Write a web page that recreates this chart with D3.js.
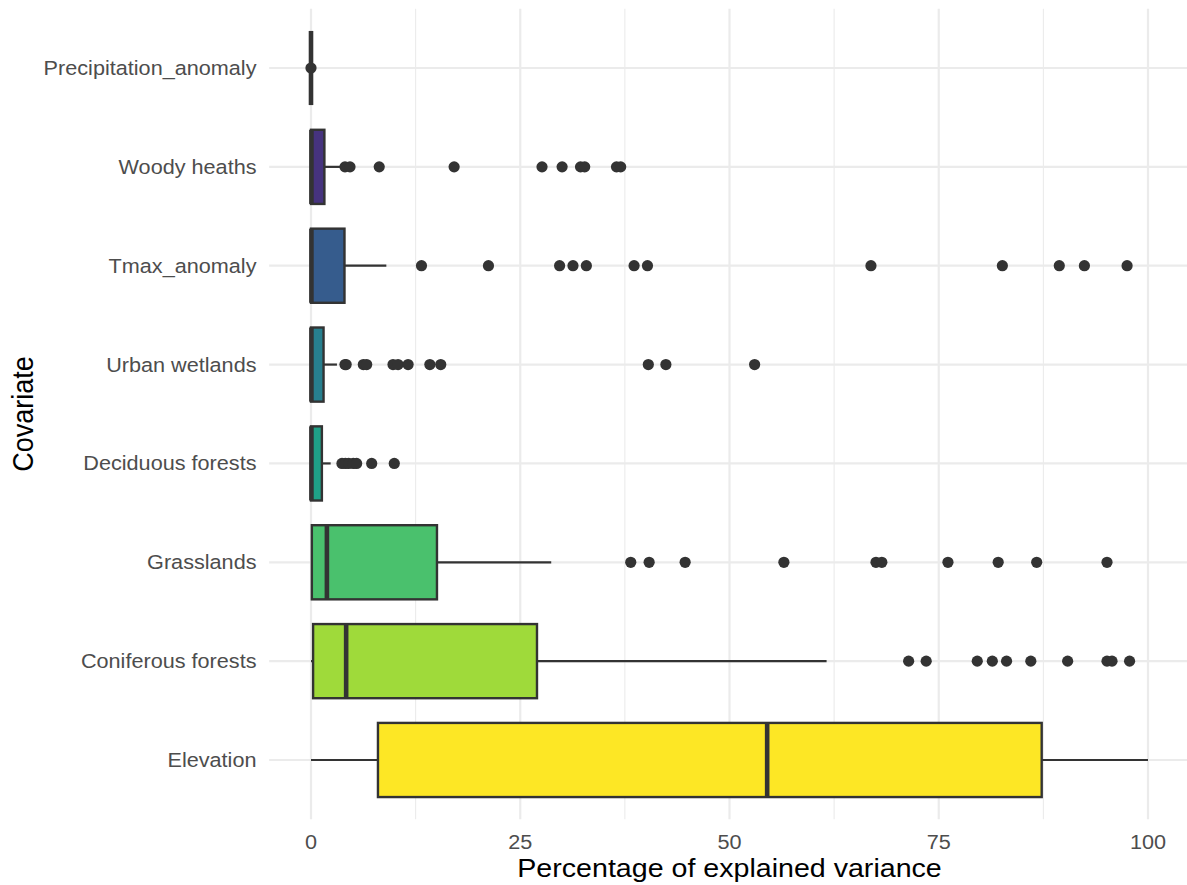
<!DOCTYPE html>
<html>
<head>
<meta charset="utf-8">
<script src="https://cdn.jsdelivr.net/npm/d3@7"></script>
<style>
  body { margin: 0; background: #fff; }
  text { font-family: "Liberation Sans", Arial, sans-serif; }
</style>
</head>
<body>
<div id="chart"></div>
<script>
// covariates, top to bottom
var categories = ["Precipitation_anomaly", "Woody heaths", "Tmax_anomaly", "Urban wetlands",
                  "Deciduous forests", "Grasslands", "Coniferous forests", "Elevation"];
var fills = ["#440154", "#46337E", "#365C8D", "#277F8E", "#1FA187", "#4AC16D", "#9FDA3A", "#FDE725"];

// box statistics (percent of explained variance)
var whiskerLow  = [0, 0, 0, 0, 0, 0, 0, 0];
var q1          = [0, 0, 0, 0, 0, 0.1, 0.25, 8.0];
var medians     = [0, 0.05, 0.05, 0.05, 0.05, 1.9, 4.2, 54.5];
var q3          = [0, 1.6, 4.0, 1.5, 1.3, 15.05, 27.0, 87.3];
var whiskerHigh = [0, 3.5, 9.0, 3.1, 2.35, 28.7, 61.6, 100];

var outliers = [
  [0],
  [4.06, 4.66, 8.15, 17.1, 27.6, 30.0, 32.2, 32.7, 36.5, 37.0],
  [13.2, 21.2, 29.7, 31.3, 32.9, 38.6, 40.2, 66.9, 82.6, 89.4, 92.4, 97.5],
  [4.06, 4.2, 6.25, 6.65, 9.8, 10.4, 11.6, 14.2, 15.5, 40.3, 42.4, 53.0],
  [3.7, 4.1, 4.5, 5.05, 5.45, 7.25, 9.95],
  [38.2, 40.4, 44.7, 56.5, 67.5, 68.2, 76.1, 82.1, 86.7, 95.1],
  [71.4, 73.5, 79.6, 81.4, 83.1, 86.0, 90.4, 95.1, 95.7, 97.8],
  []
];

var xTicks = [0, 25, 50, 75, 100];
var xMinor = [12.5, 37.5, 62.5, 87.5];

var width = 1187, height = 885;
var panel = {left: 269.15, right: 1189.85, top: 8.7, bottom: 819.3};

var svg = d3.select("#chart").append("svg")
  .attr("width", width)
  .attr("height", height);

var x = d3.scaleLinear().domain([-5, 105]).range([panel.left, panel.right]);
var y = d3.scalePoint().domain(categories).range([panel.top, panel.bottom]).padding(0.6);
var boxH = y.step() * 0.75;
var stretch = "scale(1.11,1)";

// grid
svg.append("g").selectAll("line.minor").data(xMinor).enter().append("line")
  .attr("x1", x).attr("x2", x)
  .attr("y1", panel.top).attr("y2", panel.bottom)
  .attr("stroke", "#EBEBEB").attr("stroke-width", 1.1);

svg.append("g").selectAll("line.major").data(xTicks).enter().append("line")
  .attr("x1", x).attr("x2", x)
  .attr("y1", panel.top).attr("y2", panel.bottom)
  .attr("stroke", "#EBEBEB").attr("stroke-width", 2.2);

svg.append("g").selectAll("line.hgrid").data(categories).enter().append("line")
  .attr("x1", panel.left).attr("x2", panel.right)
  .attr("y1", function(d) { return y(d); })
  .attr("y2", function(d) { return y(d); })
  .attr("stroke", "#EBEBEB").attr("stroke-width", 2.2);

var stats = categories.map(function(c, i) {
  return {cat: c, lo: whiskerLow[i], q1: q1[i], med: medians[i], q3: q3[i],
          hi: whiskerHigh[i], fill: fills[i], out: outliers[i]};
});

var boxes = svg.append("g").selectAll("g.box").data(stats).enter().append("g");

// whiskers
boxes.append("line")
  .attr("x1", function(d) { return x(d.lo); })
  .attr("x2", function(d) { return x(d.q1); })
  .attr("y1", function(d) { return y(d.cat); })
  .attr("y2", function(d) { return y(d.cat); })
  .attr("stroke", "#333333").attr("stroke-width", 2.2);

boxes.append("line")
  .attr("x1", function(d) { return x(d.q3); })
  .attr("x2", function(d) { return x(d.hi); })
  .attr("y1", function(d) { return y(d.cat); })
  .attr("y2", function(d) { return y(d.cat); })
  .attr("stroke", "#333333").attr("stroke-width", 2.2);

boxes.append("rect")
  .attr("x", function(d) { return x(d.q1); })
  .attr("width", function(d) { return x(d.q3) - x(d.q1); })
  .attr("y", function(d) { return y(d.cat) - boxH / 2; })
  .attr("height", boxH)
  .attr("fill", function(d) { return d.fill; })
  .attr("stroke", "#333333").attr("stroke-width", 2.4);

boxes.append("line")
  .attr("x1", function(d) { return x(d.med); })
  .attr("x2", function(d) { return x(d.med); })
  .attr("y1", function(d) { return y(d.cat) - boxH / 2; })
  .attr("y2", function(d) { return y(d.cat) + boxH / 2; })
  .attr("stroke", "#333333").attr("stroke-width", 4.6);

boxes.selectAll("circle").data(function(d) {
    return d.out.map(function(v) { return {cat: d.cat, v: v}; });
  }).enter().append("circle")
  .attr("cx", function(d) { return x(d.v); })
  .attr("cy", function(d) { return y(d.cat); })
  .attr("r", 5.6)
  .attr("fill", "#333333");

// axes text
svg.append("g").selectAll("text").data(categories).enter().append("text")
  .attr("transform", function(d) { return "translate(256.5," + y(d) + ") " + stretch; })
  .attr("dy", "0.36em")
  .attr("text-anchor", "end")
  .attr("font-size", 19.5)
  .attr("fill", "#4D4D4D")
  .text(function(d) { return d; });

svg.append("g").selectAll("text").data(xTicks).enter().append("text")
  .attr("transform", function(d) { return "translate(" + x(d) + ",849) " + stretch; })
  .attr("text-anchor", "middle")
  .attr("font-size", 19.5)
  .attr("fill", "#4D4D4D")
  .text(function(d) { return d; });

svg.append("text")
  .attr("transform", "translate(" + ((x(0) + x(100)) / 2) + ",877) scale(1.1,1)")
  .attr("text-anchor", "middle")
  .attr("font-size", 26)
  .attr("fill", "#000")
  .text("Percentage of explained variance");

svg.append("text")
  .attr("transform", "translate(32.5," + ((panel.top + panel.bottom) / 2) + ") scale(1.1,1) rotate(-90)")
  .attr("text-anchor", "middle")
  .attr("font-size", 27)
  .attr("fill", "#000")
  .text("Covariate");
</script>
</body>
</html>
